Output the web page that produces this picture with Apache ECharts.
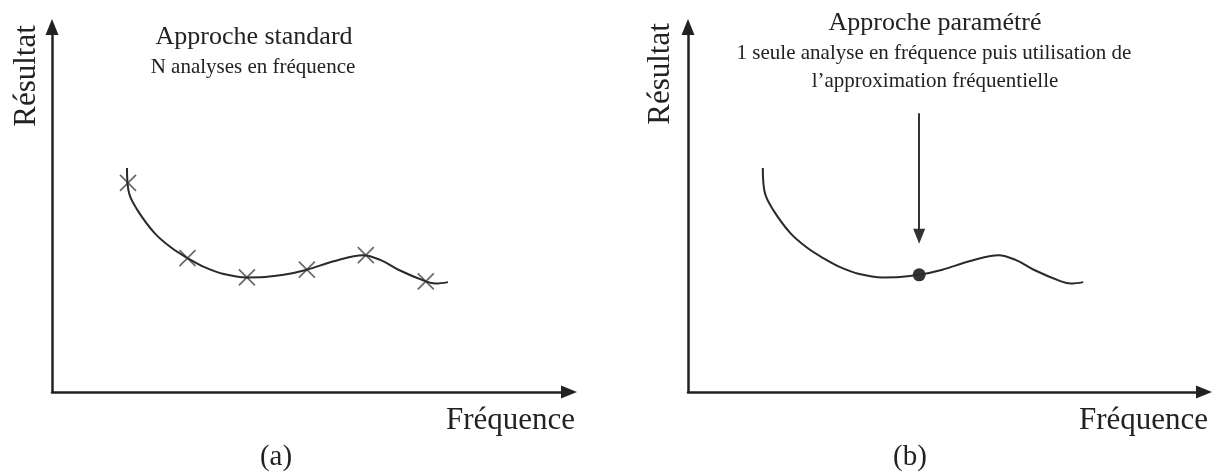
<!DOCTYPE html>
<html>
<head>
<meta charset="utf-8">
<script src="https://cdn.jsdelivr.net/npm/echarts@6/dist/echarts.min.js"></script>
<style>
  html, body { margin: 0; padding: 0; background: #fff; }
  #chart { width: 1220px; height: 472px; }
</style>
</head>
<body>
<div id="chart"></div>
<script>
// Response curve (arbitrary units), shared by both panels
const curveFreq   = [1.45, 1.49, 1.65, 1.98, 2.31, 2.62, 2.95, 3.30, 3.77, 4.11, 4.48, 4.93, 5.45, 6.02, 6.35, 6.70, 7.23, 7.42, 7.66];
const curveResult = [6.14, 5.45, 4.99, 4.36, 3.95, 3.67, 3.42, 3.24, 3.14, 3.15, 3.21, 3.35, 3.58, 3.75, 3.62, 3.35, 3.03, 2.97, 3.01];

// (a) individual frequency analyses
const crossFreq   = [1.47, 2.62, 3.77, 4.93, 6.07, 7.23];
const crossResult = [5.73, 3.67, 3.14, 3.35, 3.75, 3.03];

// (b) single analysis point and the arrow pointing at it
const dotFreq   = [4.48];
const dotResult = [3.21];
const arrowFreq = 4.48;
const arrowFrom = 7.64;
const arrowTo   = 4.27;

// Texts
const axisNameY = 'Résultat';
const axisNameX = 'Fréquence';
const panelTags = ['(a)', '(b)'];
const titleA = ['Approche standard', 'N analyses en fréquence'];
const titleB = ['Approche paramétré', '1 seule analyse en fréquence puis utilisation de', 'l\u2019approximation fréquentielle'];

const pairs = (xs, ys) => xs.map((x, i) => [x, ys[i]]);
const FONT = '"Liberation Serif", "DejaVu Serif", serif';
const INK = '#222';

const axisLine = {
  show: true,
  symbol: ['none', 'triangle'],
  symbolSize: [13, 16],
  lineStyle: { color: INK, width: 2.5 }
};
function makeAxis(idx) {
  return {
    type: 'value', gridIndex: idx, min: 0, max: 10,
    axisLine: axisLine,
    axisTick: { show: false },
    axisLabel: { show: false },
    splitLine: { show: false }
  };
}

// text centred vertically on y
function txt(text, x, y, size, align, extra) {
  return Object.assign({
    type: 'text', x: x, y: y, silent: true,
    style: {
      text: text, fill: INK, font: size + 'px ' + FONT,
      align: align, verticalAlign: 'middle'
    }
  }, extra || {});
}

const crossSymbol = 'path://M0,0L10,10M10,0L0,10';

const option = {
  backgroundColor: '#ffffff',
  animation: false,
  grid: [
    { left: 52,  top: 27, width: 517, height: 365 },
    { left: 688, top: 27, width: 516, height: 365 }
  ],
  xAxis: [makeAxis(0), makeAxis(1)],
  yAxis: [makeAxis(0), makeAxis(1)],
  series: [
    {
      type: 'line', xAxisIndex: 0, yAxisIndex: 0,
      data: pairs(curveFreq, curveResult),
      smooth: 0.35, showSymbol: false, silent: true,
      lineStyle: { color: '#2a2a2a', width: 2 }
    },
    {
      type: 'scatter', xAxisIndex: 0, yAxisIndex: 0,
      data: pairs(crossFreq, crossResult),
      symbol: crossSymbol, symbolSize: 16, silent: true,
      itemStyle: { color: 'rgba(0,0,0,0)', borderColor: '#444', borderWidth: 1.7 }
    },
    {
      type: 'line', xAxisIndex: 1, yAxisIndex: 1,
      data: pairs(curveFreq, curveResult),
      smooth: 0.35, showSymbol: false, silent: true,
      lineStyle: { color: '#2a2a2a', width: 2 },
      markLine: {
        silent: true,
        symbol: ['none', 'triangle'],
        symbolSize: [12, 15],
        label: { show: false },
        lineStyle: { color: '#333', width: 2, type: 'solid' },
        itemStyle: { color: '#111' },
        data: [[{ coord: [arrowFreq, arrowFrom] }, { coord: [arrowFreq, arrowTo] }]]
      }
    },
    {
      type: 'scatter', xAxisIndex: 1, yAxisIndex: 1,
      data: pairs(dotFreq, dotResult),
      symbol: 'circle', symbolSize: 13, silent: true,
      itemStyle: { color: '#000' }
    }
  ],
  graphic: [
    // panel (a)
    txt(axisNameY, 27, 76, 31, 'center', { rotation: Math.PI / 2 }),
    txt(axisNameX, 575, 421, 31, 'right'),
    txt(panelTags[0], 276, 457, 29, 'center'),
    txt(titleA[0], 254, 37, 26, 'center'),
    txt(titleA[1], 253, 67, 21, 'center'),
    // panel (b)
    txt(axisNameY, 661, 74, 31, 'center', { rotation: Math.PI / 2 }),
    txt(axisNameX, 1208, 421, 31, 'right'),
    txt(panelTags[1], 910, 457, 29, 'center'),
    txt(titleB[0], 935, 23, 26, 'center'),
    txt(titleB[1], 934, 53, 21, 'center'),
    txt(titleB[2], 935, 81, 21, 'center')
  ]
};

const chart = echarts.init(document.getElementById('chart'), null, { renderer: 'canvas' });
chart.setOption(option);
</script>
</body>
</html>
